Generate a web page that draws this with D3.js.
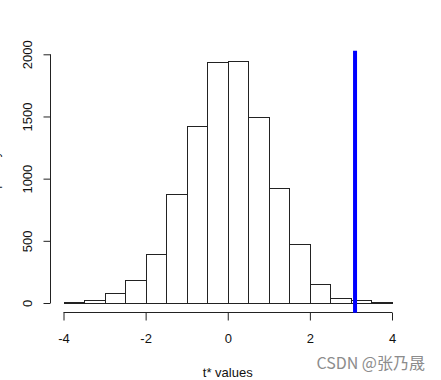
<!DOCTYPE html>
<html>
<head>
<meta charset="utf-8">
<script src="https://cdn.jsdelivr.net/npm/d3@7"></script>
<style>
  body { margin: 0; background: #fff; }
  svg { display: block; font-family: "Liberation Sans", Arial, sans-serif; }
</style>
</head>
<body>
<div id="chart"></div>
<script>
// histogram of bootstrap t* values, bins of width 0.5
const binEdges = [-4, -3.5, -3, -2.5, -2, -1.5, -1, -0.5, 0, 0.5, 1, 1.5, 2, 2.5, 3, 3.5, 4];
const counts = [8, 22, 80, 183, 397, 875, 1420, 1935, 1950, 1492, 927, 471, 152, 42, 22, 8];
const xTicks = [-4, -2, 0, 2, 4];
const yTicks = [0, 500, 1000, 1500, 2000];
const observedT = 3.1;
const xLabel = "t* values";
const yLabel = "Frequency";
const watermark = "CSDN @张乃晟";

const width = 441, height = 380;

const svg = d3.select("#chart")
  .append("svg")
    .attr("width", width)
    .attr("height", height);

const xScale = d3.scaleLinear()
  .domain([-4, 4])
  .range([63.5, 392]);

const yScale = d3.scaleLinear()
  .domain([0, 2000])
  .range([303, 54.3]);

const maxCount = d3.max(counts);

const bins = counts.map((c, i) => ({ x0: binEdges[i], x1: binEdges[i + 1], count: c }));

// bars
svg.append("g")
  .selectAll("rect")
  .data(bins)
  .join("rect")
    .attr("x", d => Math.round(xScale(d.x0)) + 0.5)
    .attr("y", d => Math.round(yScale(d.count)) + 0.5)
    .attr("width", d => Math.round(xScale(d.x1)) - Math.round(xScale(d.x0)))
    .attr("height", d => Math.round(yScale(0)) - Math.round(yScale(d.count)))
    .attr("fill", "#fff")
    .attr("stroke", "#222")
    .attr("stroke-width", 1);

// x axis
const axisBottom = d3.axisBottom(xScale)
  .tickValues(xTicks)
  .tickSize(8)
  .tickPadding(13);

svg.append("g")
  .attr("transform", "translate(0,312.5)")
  .call(axisBottom)
  .call(g => g.select(".domain").attr("stroke", "#222").attr("d", `M${xScale(-4)},0H${xScale(4)}`))
  .call(g => g.selectAll(".tick line").attr("stroke", "#222"))
  .call(g => g.selectAll(".tick text")
    .attr("font-size", 13)
    .attr("fill", "#111")
    .text(d => d < 0 ? "-" + Math.abs(d) : d));

// y axis
const axisLeft = d3.axisLeft(yScale)
  .tickValues(yTicks)
  .tickFormat(d3.format("d"))
  .tickSize(7);

svg.append("g")
  .attr("transform", "translate(50.5,0)")
  .call(axisLeft)
  .call(g => g.select(".domain").attr("stroke", "#222").attr("d", `M0,${yScale(0)}V${yScale(2000)}`))
  .call(g => g.selectAll(".tick line").attr("stroke", "#222"))
  .call(g => g.selectAll(".tick text")
    .attr("x", null)
    .attr("dy", null)
    .attr("text-anchor", "middle")
    .attr("transform", "translate(-19,0) rotate(-90)")
    .attr("font-size", 13)
    .attr("fill", "#111"));

// observed statistic
svg.append("line")
  .attr("x1", xScale(observedT))
  .attr("x2", xScale(observedT))
  .attr("y1", yScale(maxCount * 1.04))
  .attr("y2", yScale(-maxCount * 0.04))
  .attr("stroke", "#0000ff")
  .attr("stroke-width", 4);

// labels
svg.append("text")
  .attr("x", xScale(0))
  .attr("y", 377)
  .attr("text-anchor", "middle")
  .attr("font-size", 13)
  .attr("fill", "#111")
  .text(xLabel);

svg.append("text")
  .attr("transform", `translate(-1,${(yScale(-maxCount * 0.04) + yScale(maxCount * 1.04)) / 2}) rotate(-90)`)
  .attr("text-anchor", "middle")
  .attr("font-size", 13)
  .attr("fill", "#111")
  .text(yLabel);

svg.append("text")
  .attr("x", 425)
  .attr("y", 369)
  .attr("text-anchor", "end")
  .attr("font-family", "'Noto Sans CJK SC', sans-serif")
  .attr("font-size", 16)
  .attr("fill", "#8c8c8c")
  .text(watermark);
</script>
</body>
</html>
